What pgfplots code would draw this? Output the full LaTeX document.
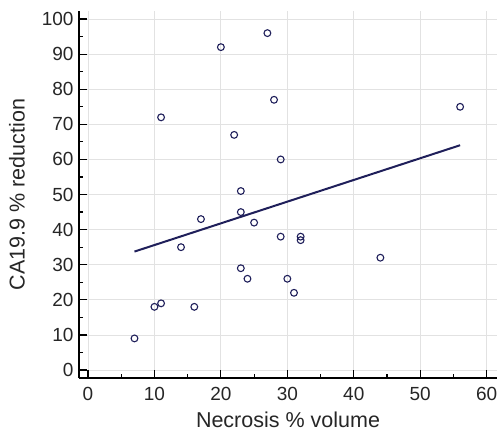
\documentclass[border=0pt]{standalone}
\usepackage{pgfplots}
\pgfplotsset{compat=1.18}
\usepackage{fontspec}
\setmainfont{Liberation Sans}
\definecolor{navy}{HTML}{1F1F5A}
\definecolor{gridgray}{HTML}{E2E2E2}
\begin{document}
\begin{tikzpicture}
\begin{axis}[
  name=ax,
  at={(0,0)}, anchor=south west,
  scale only axis,
  width=418pt, height=367pt,
  xmin=-1.35, xmax=61.55,
  ymin=-2.28, ymax=102.3,
  axis x line*=bottom, axis y line*=left,
  axis line style={line width=1.8pt, black},
  xtick={0,10,...,60}, ytick={0,10,...,100},
  minor tick num=1,
  tick align=inside,
  major tick length=8pt, minor tick length=4pt,
  tick style={line width=1.2pt, black},
  grid=major,
  major grid style={line width=0.8pt, gridgray},
  /pgf/number format/assume math mode=true,
  ticklabel style={font=\fontsize{19}{21}\selectfont, text=black!85},
  xticklabel style={yshift=-6pt},
  yticklabel style={xshift=-2pt},
  label style={font=\fontsize{21.5}{24}\selectfont, text=black!85},
  xlabel style={inner sep=0pt, yshift=-7pt},
  ylabel style={yshift=10pt},
  xlabel={Necrosis \% volume},
  ylabel={CA19.9 \% reduction},
  clip=false,
]
\addplot[only marks, mark=o, mark size=3.4pt, mark options={line width=1.1pt, navy}]
coordinates {
(7,9) (10,18) (11,19) (11,72) (14,35) (16,18) (17,43) (20,92) (22,67)
(23,51) (23,45) (23,29) (24,26) (25,42) (27,96) (28,77) (29,60) (29,38)
(30,26) (31,22) (32,38) (32,37) (44,32) (56,75)
};
\addplot[navy, line width=2pt, no marks] coordinates {(7,33.75) (56,64.05)};
\end{axis}
\pgfresetboundingbox
\path (ax.south west) ++(-79pt,-54pt) coordinate (bl);
\path (ax.north east) ++(3pt,11pt) coordinate (tr);
\path[use as bounding box] (bl) rectangle (tr);
\end{tikzpicture}
\end{document}
